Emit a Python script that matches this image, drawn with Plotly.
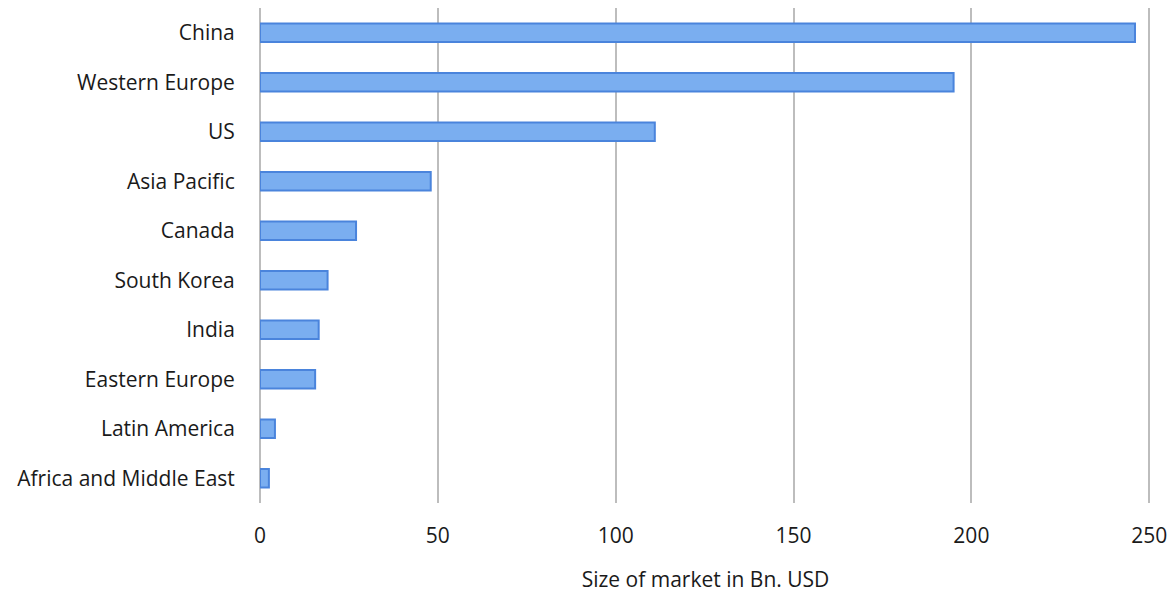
import plotly.graph_objects as go

regions = ["China", "Western Europe", "US", "Asia Pacific", "Canada", "South Korea",
           "India", "Eastern Europe", "Latin America", "Africa and Middle East"]
market_size = [246, 195, 111, 48, 27, 19, 16.5, 15.5, 4.2, 2.5]
x_ticks = [0, 50, 100, 150, 200, 250]

fig = go.Figure(go.Bar(
    x=market_size,
    y=regions,
    orientation="h",
    marker=dict(color="#7AAEF0", line=dict(color="#4A84DC", width=2)),
))

fig.update_layout(
    width=1175, height=596,
    margin=dict(l=260, r=24, t=8, b=93),
    paper_bgcolor="white", plot_bgcolor="white",
    bargap=0.63,
    showlegend=False,
    font=dict(family="Open Sans, Liberation Sans, sans-serif", color="#1a1a1a"),
    xaxis=dict(
        automargin=False,
        range=[0, 250.5], tickvals=x_ticks, ticktext=[str(v) for v in x_ticks],
        showgrid=True, gridcolor="#BDBDBD", gridwidth=2,
        zeroline=True, zerolinecolor="#BDBDBD", zerolinewidth=2,
        tickfont=dict(size=21), ticks="outside", ticklen=14, tickcolor="rgba(0,0,0,0)",
        title=dict(text="Size of market in Bn. USD", font=dict(size=21), standoff=24),
    ),
    yaxis=dict(
        automargin=False,
        autorange="reversed", tickfont=dict(size=21),
        ticks="outside", ticklen=20, tickcolor="rgba(0,0,0,0)",
        showgrid=False,
    ),
)

fig.write_html("out.html", config={"displayModeBar": False},
               post_script="document.body.style.margin='0';document.body.style.overflow='hidden';")
